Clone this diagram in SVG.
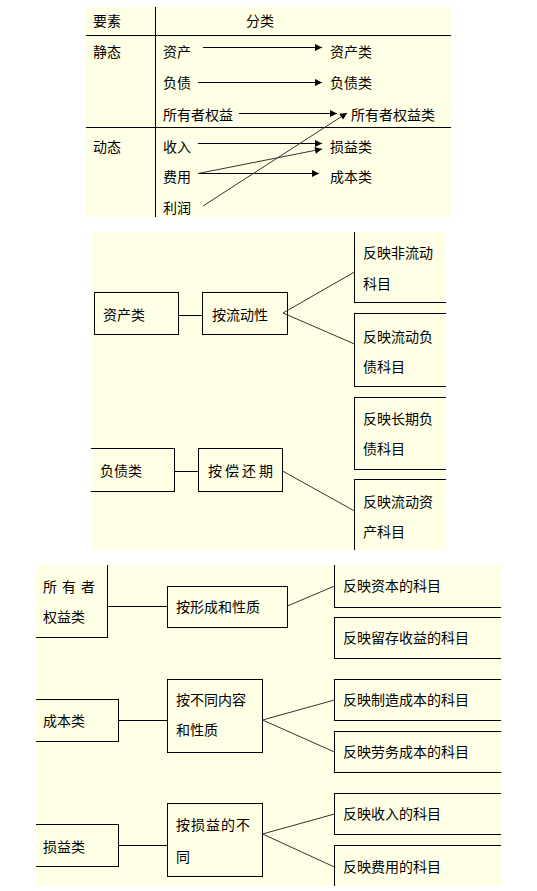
<svg xmlns="http://www.w3.org/2000/svg" width="537" height="891" viewBox="0 0 537 891">
<style>
text{font-family:"Noto Sans CJK SC","Noto Sans CJK TC",sans-serif;font-size:14px;fill:#000}
.bg{fill:#FFFFE5;stroke:none}
.ln{stroke:#000;stroke-width:1;fill:none}
.dl{stroke:#333;stroke-width:1;fill:none}
.box{fill:#FFFFE5;stroke:#000;stroke-width:1}
</style>
<defs>
<marker id="ah" viewBox="0 0 10 10" refX="10" refY="5" markerWidth="9" markerHeight="7" markerUnits="userSpaceOnUse" orient="auto">
<path d="M0,0 L10,5 L0,10 z" fill="#000"/>
</marker>
<clipPath id="c2"><rect x="91" y="232" width="355" height="318"/></clipPath>
<clipPath id="c3"><rect x="36" y="565" width="465" height="321"/></clipPath>
</defs>

<g id="panel1">
<rect class="bg" x="86" y="7" width="365" height="210"/>
<line class="ln" x1="155.5" y1="7" x2="155.5" y2="217"/>
<line class="ln" x1="86" y1="35.5" x2="451" y2="35.5"/>
<line class="ln" x1="86" y1="127.5" x2="451" y2="127.5"/>
<g id="h1"><text x="93" y="26">要素</text></g>
<g id="h2"><text x="246" y="26">分类</text></g>
<g id="s0"><text x="93" y="57">静态</text></g>
<g id="d0"><text x="93" y="152">动态</text></g>
<g id="e1"><text x="163" y="57">资产</text></g>
<g id="e2"><text x="163" y="88">负债</text></g>
<g id="e3"><text x="163" y="120">所有者权益</text></g>
<g id="e4"><text x="163" y="152">收入</text></g>
<g id="e5"><text x="163" y="182">费用</text></g>
<g id="e6"><text x="163" y="213">利润</text></g>
<g id="c1"><text x="330" y="57">资产类</text></g>
<g id="c2n"><text x="330" y="88">负债类</text></g>
<g id="c3n"><text x="351" y="120">所有者权益类</text></g>
<g id="c4"><text x="330" y="152">损益类</text></g>
<g id="c5"><text x="330" y="182">成本类</text></g>
</g>

<g id="connectors1">
<line class="ln" x1="203" y1="47.5" x2="322" y2="47.5" marker-end="url(#ah)"/>
<line class="ln" x1="198" y1="82.5" x2="322" y2="82.5" marker-end="url(#ah)"/>
<line class="ln" x1="239" y1="113.5" x2="337" y2="113.5" marker-end="url(#ah)"/>
<line class="ln" x1="198" y1="143.5" x2="322" y2="143.5" marker-end="url(#ah)"/>
<line class="ln" x1="198" y1="173.5" x2="319" y2="173.5" marker-end="url(#ah)"/>
<line class="dl" x1="198" y1="173.5" x2="322" y2="149" marker-end="url(#ah)"/>
<line class="dl" x1="203" y1="206" x2="347" y2="113" marker-end="url(#ah)"/>
</g>

<g id="panel2">
<rect class="bg" x="91" y="232" width="355" height="318"/>
<g clip-path="url(#c2)">
<g id="n_zc"><rect class="box" x="94.5" y="292.5" width="84" height="42"/><text x="103" y="320">资产类</text></g>
<g id="n_ldx"><rect class="box" x="202.5" y="292.5" width="85" height="42"/><text x="212" y="320">按流动性</text></g>
<g id="n_r1"><rect class="box" x="354.5" y="220.5" width="110" height="82"/><text x="363" y="258">反映非流动</text><text x="363" y="289">科目</text></g>
<g id="n_r2"><rect class="box" x="354.5" y="313.5" width="110" height="73"/><text x="363" y="342">反映流动负</text><text x="363" y="372">债科目</text></g>
<g id="n_r3"><rect class="box" x="354.5" y="397.5" width="110" height="72"/><text x="363" y="424">反映长期负</text><text x="363" y="454">债科目</text></g>
<g id="n_r4"><rect class="box" x="354.5" y="479.5" width="110" height="90"/><text x="363" y="507">反映流动资</text><text x="363" y="537">产科目</text></g>
<g id="n_fz"><rect class="box" x="80.5" y="448.5" width="94" height="43"/><text x="100" y="476">负债类</text></g>
<g id="n_chq"><rect class="box" x="198.5" y="448.5" width="84" height="43"/><text x="208" y="476" letter-spacing="3">按偿还期</text></g>
</g>
</g>

<g id="connectors2">
<line class="ln" x1="178.5" y1="315.5" x2="202.5" y2="315.5"/>
<line class="dl" x1="283" y1="313" x2="354.5" y2="272"/>
<line class="dl" x1="283" y1="313" x2="354.5" y2="344"/>
<line class="ln" x1="174.5" y1="471.5" x2="198.5" y2="471.5"/>
<line class="dl" x1="282.5" y1="471" x2="354.5" y2="511"/>
</g>

<g id="panel3">
<rect class="bg" x="36" y="565" width="465" height="321"/>
<g clip-path="url(#c3)">
<g id="n_syz"><rect class="box" x="20.5" y="550.5" width="87" height="87"/><text x="43" y="592" letter-spacing="5">所有者</text><text x="43" y="622">权益类</text></g>
<g id="n_xc"><rect class="box" x="167.5" y="586.5" width="120" height="41"/><text x="176" y="612">按形成和性质</text></g>
<g id="n_b1"><rect class="box" x="334.5" y="545.5" width="180" height="62"/><text x="343" y="591">反映资本的科目</text></g>
<g id="n_b2"><rect class="box" x="334.5" y="617.5" width="180" height="41"/><text x="343" y="643">反映留存收益的科目</text></g>
<g id="n_cb"><rect class="box" x="20.5" y="699.5" width="98" height="42"/><text x="43" y="726">成本类</text></g>
<g id="n_bt"><rect class="box" x="167.5" y="679.5" width="95" height="73"/><text x="176" y="705">按不同内容</text><text x="176" y="735">和性质</text></g>
<g id="n_b3"><rect class="box" x="334.5" y="679.5" width="180" height="41"/><text x="343" y="705">反映制造成本的科目</text></g>
<g id="n_b4"><rect class="box" x="334.5" y="731.5" width="180" height="41"/><text x="343" y="757">反映劳务成本的科目</text></g>
<g id="n_sy"><rect class="box" x="20.5" y="824.5" width="98" height="42"/><text x="43" y="852">损益类</text></g>
<g id="n_syb"><rect class="box" x="167.5" y="803.5" width="95" height="73"/><text x="176" y="830" letter-spacing="1">按损益的不</text><text x="176" y="862">同</text></g>
<g id="n_b5"><rect class="box" x="334.5" y="793.5" width="180" height="41"/><text x="343" y="819">反映收入的科目</text></g>
<g id="n_b6"><rect class="box" x="334.5" y="845.5" width="180" height="60"/><text x="343" y="872">反映费用的科目</text></g>
</g>
</g>

<g id="connectors3">
<line class="ln" x1="107.5" y1="606.5" x2="167.5" y2="606.5"/>
<line class="dl" x1="287.5" y1="606" x2="334.5" y2="586"/>
<line class="ln" x1="118.5" y1="720.5" x2="167.5" y2="720.5"/>
<line class="dl" x1="262.5" y1="720" x2="334.5" y2="700"/>
<line class="dl" x1="262.5" y1="720" x2="334.5" y2="752"/>
<line class="ln" x1="118.5" y1="845.5" x2="167.5" y2="845.5"/>
<line class="dl" x1="262.5" y1="834" x2="334.5" y2="814"/>
<line class="dl" x1="262.5" y1="834" x2="334.5" y2="867"/>
</g>
</svg>
